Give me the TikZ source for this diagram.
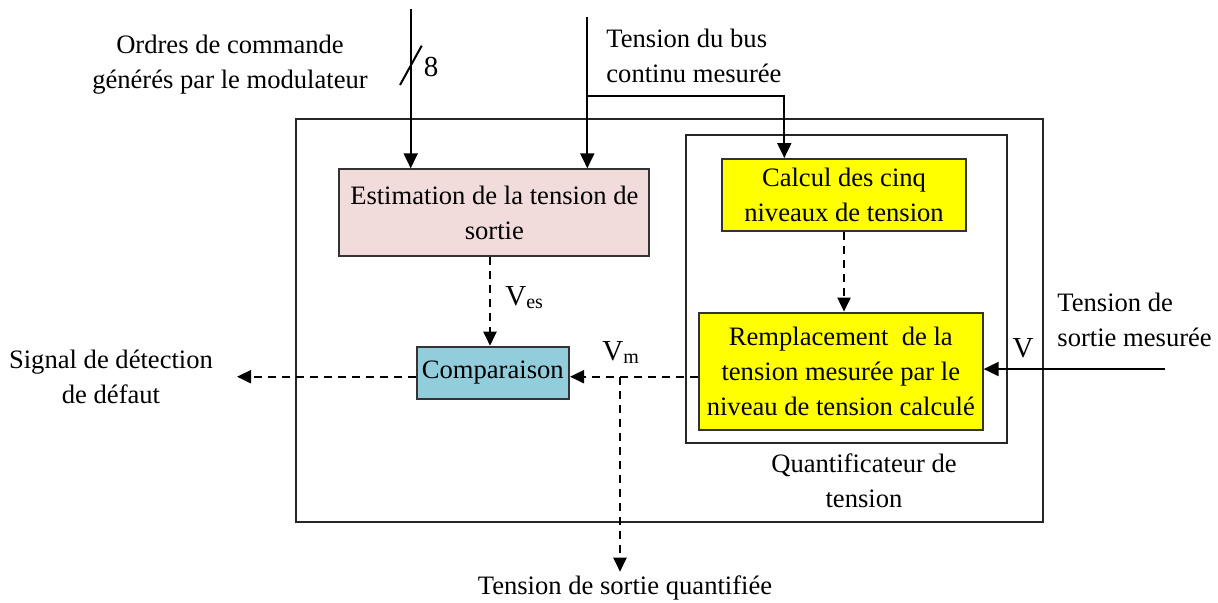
\documentclass[tikz,border=0pt]{standalone}
\usepackage{fontspec}
\setmainfont{Liberation Serif}
\usetikzlibrary{arrows.meta,calc}
\definecolor{pinkfill}{HTML}{F2DCDB}
\definecolor{bluefill}{HTML}{92CDDC}
\definecolor{yellowfill}{HTML}{FFFF00}
\begin{document}
\begin{tikzpicture}[x=0.5pt,y=-0.5pt,
  txt/.style={font=\fontsize{13.3}{17.5}\selectfont, inner sep=0pt, align=center},
  txtl/.style={font=\fontsize{13.3}{17.5}\selectfont, inner sep=0pt, align=left},
  lbl/.style={font=\fontsize{14.5}{17}\selectfont, inner sep=0pt},
  blockbox/.style={draw=black!80, line width=1pt, inner sep=0pt, align=center,
    font=\fontsize{13.3}{17.5}\selectfont},
  frame/.style={draw=black!85, line width=1pt},
  arr/.style={line width=1pt, -{Triangle[length=7.5pt,width=7pt]}},
  darr/.style={line width=1pt, dash pattern=on 4pt off 3pt, -{Triangle[length=7pt,width=6.5pt]}},
  dline/.style={line width=1pt, dash pattern=on 4pt off 3pt}]
\useasboundingbox (0,0) rectangle (1218,602);

% frames
\draw[frame] (296,119.3) rectangle (1043.3,521.7);
\draw[frame] (685.7,135) rectangle (1007.3,443.3);

% blocks
\node[blockbox, fill=pinkfill, minimum width=155pt, minimum height=43.4pt] (est) at (494.3,212.7)
  {Estimation de la tension de\\sortie};
\node[blockbox, fill=bluefill, minimum width=76.2pt, minimum height=26.3pt] (comp) at (492.8,373)
  {Comparaison};
\node[blockbox, fill=yellowfill, minimum width=121.7pt, minimum height=36pt] (calc) at (844,195)
  {Calcul des cinq\\niveaux de tension};
\node[blockbox, fill=yellowfill, minimum width=141.8pt, minimum height=58.7pt] (remp) at (840.8,371.3)
  {Remplacement\ \ de la\\tension mesurée par le\\niveau de tension calculé};

% helper coordinates
\coordinate (ordtop) at (410.7,9);
\coordinate (bustop) at (587.3,17);
\coordinate (busj) at (587.3,96);
\coordinate (busk) at (784.3,96);
\coordinate (vesx) at (490,0);
\coordinate (hy) at (0,376.7);
\coordinate (sigtip) at (237,376.7);
\coordinate (vmj) at (620,376.7);
\coordinate (qtip) at (620,571.7);
\coordinate (vin) at (1165,369);
\coordinate (sla) at (400,85);
\coordinate (slb) at (421.7,45.7);

% connectors
\draw[arr] (ordtop) -- (ordtop |- est.north);
\draw[line width=1pt] (sla) -- (slb);
\draw[arr] (bustop) -- (bustop |- est.north);
\draw[arr] (busj) -- (busk) -- (busk |- calc.north);
\draw[darr] (vesx |- est.south) -- (vesx |- comp.north);
\draw[darr] (calc.south) -- (calc.south |- remp.north);
\draw[darr] (remp.west |- hy) -- (comp.east |- hy);
\draw[darr] (comp.west |- hy) -- (sigtip);
\draw[darr] (vmj) -- (qtip);
\draw[arr] (vin) -- (remp.east |- vin);

% labels
\node[lbl] (eight) at (431,67) {8};
\node[txt] (ordres) at (230,65) {Ordres de commande\\générés par le modulateur};
\node[txtl, anchor=west] (bus) at (606,56) {Tension du bus\\continu mesurée};
\node[lbl, anchor=base west] (ves) at (505,305) {V\raisebox{-0.25ex}{\fontsize{10}{12}\selectfont es}};
\node[lbl, anchor=base west] (vm) at (602,360) {V\raisebox{-0.25ex}{\fontsize{10}{12}\selectfont m}};
\node[lbl] (vlab) at (1023,348) {V};
\node[txtl, anchor=west] (sortmes) at (1057,320) {Tension de\\sortie mesurée};
\node[txt] (signal) at (111,377) {Signal de détection\\de défaut};
\node[txt] (quant) at (864,481) {Quantificateur de\\tension};
\node[txt] (quantif) at (625,588) {Tension de sortie quantifiée};
\end{tikzpicture}
\end{document}
